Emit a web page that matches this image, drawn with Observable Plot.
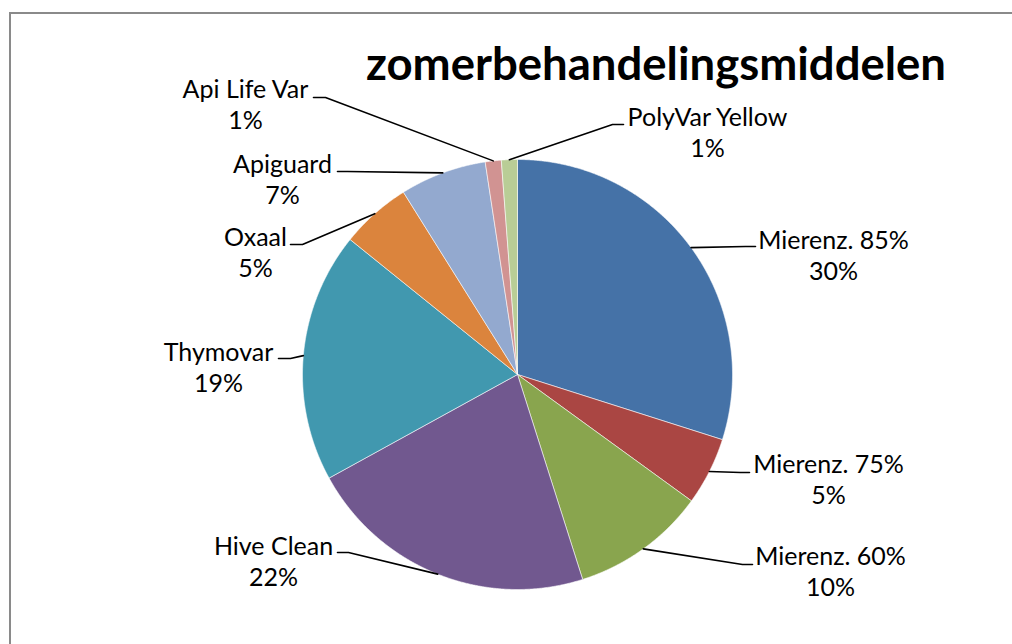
<!DOCTYPE html>
<html>
<head>
<meta charset="utf-8">
<script src="https://cdn.jsdelivr.net/npm/d3@7"></script>
<script src="https://cdn.jsdelivr.net/npm/@observablehq/plot@0.6"></script>
<style>
  html, body { margin: 0; padding: 0; background: #fff; }
  #wrap { position: relative; width: 1012px; height: 644px; overflow: hidden; }
  #frame { position: absolute; left: 9px; top: 12px; width: 1100px; height: 1000px;
           border-left: 2px solid #8a8a8a; border-top: 2px solid #8a8a8a; }
  #chart { position: absolute; left: 0; top: 0; }
  #title { position: absolute; left: 356px; width: 600px; top: 40px; text-align: center;
           font-family: Lato, "Open Sans", sans-serif; font-weight: bold; font-size: 45.5px;
           line-height: 45px; color: #000; white-space: nowrap; }
</style>
</head>
<body>
<div id="wrap">
  <div id="frame"></div>
  <div id="chart"></div>
  <div id="title">zomerbehandelingsmiddelen</div>
</div>
<script>
// ---- data ----
const names = ["Mierenz. 85%", "Mierenz. 75%", "Mierenz. 60%", "Hive Clean", "Thymovar",
               "Oxaal", "Apiguard", "Api Life Var", "PolyVar Yellow"];
const shares = [29.9, 5.1, 10.1, 21.9, 18.8, 5.3, 6.5, 1.2, 1.2];
const colors = ["#4572A7", "#AA4643", "#89A54E", "#71588F", "#4198AF",
                "#DB843D", "#93A9CF", "#D19392", "#B9CD96"];

// ---- layout (pixel offsets from pie centre, y downward) ----
const R = 215;
const labelX = [316, 311, 313, -244, -299, -262, -235, -272, 190];
const labelY = [-126, 98, 190, 180, -14, -129, -202, -277, -249];
const elbowX = [228, 223, 225, -169, -227, -215, -170, -192, 95];
const elbowY = [-128, 98, 190, 178, -16, -130, -203, -277, -250];
const endX   = [238, 232, 235, -180, -239, -227, -180, -204, 106];
const lineGap = 31;
const fontSize = 25;

const total = d3.sum(shares);
const arcs = d3.pie().sort(null).value(d => d)(shares);

const slicePts = [];
arcs.forEach((a, i) => {
  const name = names[i];
  slicePts.push({name, x: 0, y: 0});
  const n = Math.max(2, Math.ceil((a.endAngle - a.startAngle) / 0.004));
  for (let k = 0; k <= n; k++) {
    const t = a.startAngle + (a.endAngle - a.startAngle) * k / n;
    slicePts.push({name, x: R * Math.sin(t), y: -R * Math.cos(t)});
  }
  slicePts.push({name, x: 0, y: 0});
});

const leaderPts = [];
const labels = [];
arcs.forEach((a, i) => {
  const mid = (a.startAngle + a.endAngle) / 2;
  leaderPts.push({i, x: R * Math.sin(mid), y: -R * Math.cos(mid)});
  leaderPts.push({i, x: elbowX[i], y: elbowY[i]});
  leaderPts.push({i, x: endX[i], y: elbowY[i]});
  labels.push({
    name: names[i],
    pct: Math.round(shares[i] / total * 100) + "%",
    x: labelX[i], y: labelY[i]
  });
});

const chart = Plot.plot({
  width: 1012,
  height: 644,
  margin: 0,
  x: {domain: [-517, 495], axis: null},
  y: {domain: [270, -374], axis: null},
  color: {domain: names, range: colors},
  style: {background: "transparent"},
  marks: [
    Plot.line(slicePts, {x: "x", y: "y", z: "name", fill: "name", stroke: "#ffffff",
                         strokeWidth: 0.8, strokeOpacity: 0.7, curve: "linear"}),
    Plot.line(leaderPts, {x: "x", y: "y", z: "i", stroke: "#000", strokeWidth: 1.6}),
    Plot.text(labels, {x: "x", y: "y", text: "name", lineAnchor: "bottom",
                       fontSize, fontFamily: "Lato", fill: "#000"}),
    Plot.text(labels, {x: "x", y: "y", text: "pct", lineAnchor: "bottom", dy: lineGap,
                       fontSize, fontFamily: "Lato", fill: "#000"})
  ]
});
document.getElementById("chart").appendChild(chart);
</script>
</body>
</html>
